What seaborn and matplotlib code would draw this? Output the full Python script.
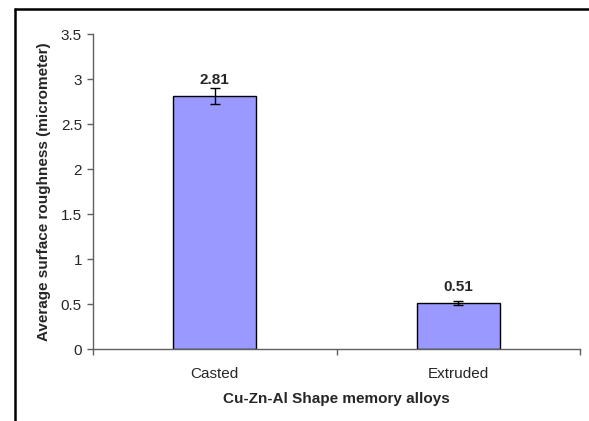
import numpy as np
import pandas as pd
import seaborn as sns
import matplotlib
matplotlib.use("Agg")
import matplotlib.pyplot as plt
from matplotlib.lines import Line2D

# data
alloys = ["Casted", "Extruded"]
roughness = [2.81, 0.51]
roughness_err = [0.09, 0.02]
labels = ["2.81", "0.51"]

df = pd.DataFrame({"alloy": alloys, "roughness": roughness})

sns.set_style("ticks")
plt.rcParams["font.family"] = ["Liberation Sans", "DejaVu Sans"]

fig = plt.figure(figsize=(5.89, 4.21), dpi=100)
ax = fig.add_axes([0.158, 0.171, 0.827, 0.748])

sns.barplot(data=df, x="alloy", y="roughness", color="#9999FF",
            edgecolor="black", linewidth=1, width=0.34, saturation=1,
            errorbar=None, ax=ax)

pos = np.arange(len(alloys))
ax.errorbar(pos, roughness, yerr=roughness_err, fmt="none", ecolor="black",
            elinewidth=1, capsize=3.5, capthick=1)

for x, v, t in zip(pos, roughness, labels):
    ax.annotate(t, (x, v), xytext=(0, 11.5), textcoords="offset points",
                ha="center", va="center", fontsize=11, fontweight="bold")

ax.set_ylim(0, 3.5)
ax.set_xlim(-0.5, len(alloys) - 0.5)
ax.set_yticks(np.arange(0, 3.51, 0.5))
ax.set_yticklabels(["0", "0.5", "1", "1.5", "2", "2.5", "3", "3.5"])

# excel style ticks between categories
ax.set_xticks(np.arange(-0.5, len(alloys), 1.0), minor=True)
ax.tick_params(axis="x", which="major", length=0, pad=13, labelsize=11)
ax.tick_params(axis="x", which="minor", length=4, width=1, color="#606060", direction="out")
ax.tick_params(axis="y", length=4, width=1, color="#606060", pad=4, labelsize=11)

ax.set_xlabel("Cu-Zn-Al Shape memory alloys", fontsize=11, fontweight="bold", labelpad=8)
ax.set_ylabel("Average surface roughness (micrometer)", fontsize=11, fontweight="bold", labelpad=7)

sns.despine(ax=ax)
for s in ["left", "bottom"]:
    ax.spines[s].set_color("#606060")
    ax.spines[s].set_linewidth(1)

# outer frame (top and left only, rest is cropped)
fig.add_artist(Line2D([15 / 589, 1.0], [1 - 9 / 421, 1 - 9 / 421], color="black", lw=1.8))
fig.add_artist(Line2D([15 / 589, 15 / 589], [0, 1 - 9 / 421], color="black", lw=1.8))

fig.savefig("out.png", dpi=100, facecolor="white")
